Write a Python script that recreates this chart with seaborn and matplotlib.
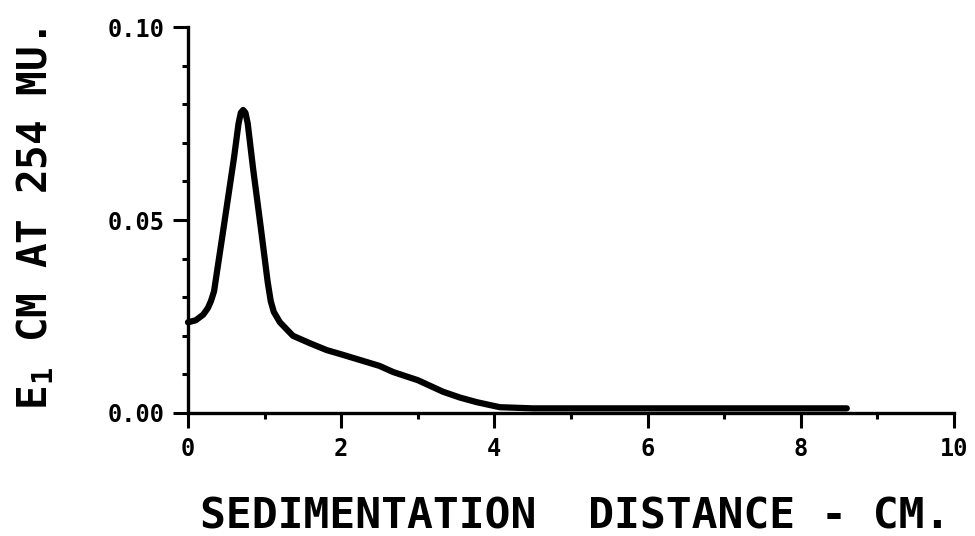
import matplotlib
matplotlib.use("Agg")
import matplotlib.pyplot as plt
import seaborn as sns
import pandas as pd
from matplotlib.ticker import MultipleLocator, FixedLocator

# ---- data ----
distance_cm = [0.00, 0.10, 0.20, 0.26, 0.30, 0.34, 0.45, 0.60, 0.66, 0.69, 0.72, 0.75, 0.78,
               0.85, 0.95, 1.04, 1.08, 1.12, 1.20, 1.37, 1.60, 1.81, 2.00, 2.25, 2.50, 2.68,
               3.00, 3.33, 3.55, 3.77, 4.07, 4.50, 6.00, 8.00, 8.60]
absorbance = [0.0235, 0.0240, 0.0255, 0.0272, 0.0290, 0.0315, 0.0460, 0.0660, 0.0750, 0.0778,
              0.0785, 0.0778, 0.0750, 0.0633, 0.0481, 0.0340, 0.0290, 0.0262, 0.0235, 0.0200,
              0.0180, 0.0163, 0.0152, 0.0137, 0.0122, 0.0106, 0.0085, 0.0055, 0.0040, 0.0028,
              0.0015, 0.0012, 0.0012, 0.0012, 0.0012]
x_ticks = [0, 2, 4, 6, 8, 10]
x_tick_labels = ["0", "2", "4", "6", "8", "10"]
y_ticks = [0.00, 0.05, 0.10]
y_tick_labels = ["0.00", "0.05", "0.10"]
x_label = "SEDIMENTATION  DISTANCE - CM."
y_label = r"E$_\mathbf{1}$ CM AT 254 MU."

df = pd.DataFrame({"distance": distance_cm, "absorbance": absorbance})

sns.set_theme(style="white")
plt.rcParams["font.family"] = ["DejaVu Sans Mono", "DejaVu Sans"]
plt.rcParams["mathtext.fontset"] = "custom"
plt.rcParams["mathtext.rm"] = "DejaVu Sans Mono"
plt.rcParams["mathtext.bf"] = "DejaVu Sans Mono:bold"
plt.rcParams["text.color"] = "black"
plt.rcParams["axes.labelcolor"] = "black"
plt.rcParams["xtick.color"] = "black"
plt.rcParams["ytick.color"] = "black"

fig = plt.figure(figsize=(9.75, 5.36), dpi=100)
ax = fig.add_axes([0.1928, 0.2295, 0.7857, 0.7201])

sns.lineplot(data=df, x="distance", y="absorbance", ax=ax, color="black",
             linewidth=4.5, sort=False, estimator=None, clip_on=False,
             solid_capstyle="round", solid_joinstyle="round")

ax.set_xlim(0, 10)
ax.set_ylim(0, 0.10)
ax.xaxis.set_major_locator(FixedLocator(x_ticks))
ax.set_xticklabels(x_tick_labels)
ax.xaxis.set_minor_locator(MultipleLocator(1))
ax.yaxis.set_major_locator(FixedLocator(y_ticks))
ax.set_yticklabels(y_tick_labels)
ax.yaxis.set_minor_locator(MultipleLocator(0.01))

for side in ["top", "right"]:
    ax.spines[side].set_visible(False)
for side in ["left", "bottom"]:
    ax.spines[side].set_linewidth(2.4)
    ax.spines[side].set_color("black")

ax.tick_params(axis="both", which="major", direction="out", length=11, width=2.2,
               color="black", labelcolor="black", labelsize=17, pad=6)
ax.tick_params(axis="both", which="minor", direction="out", length=4, width=2.2,
               color="black")
ax.tick_params(axis="x", which="both", bottom=True)
ax.tick_params(axis="y", which="both", left=True)
for lab in ax.get_xticklabels() + ax.get_yticklabels():
    lab.set_fontweight("bold")

ax.set_xlabel(x_label, fontsize=31, fontweight="bold", va="baseline", color="black")
ax.set_ylabel(y_label, fontsize=29.5, fontweight="bold", va="baseline", color="black")
ax.xaxis.set_label_coords(0.505, -0.298)
ax.yaxis.set_label_coords(-0.184, 0.503)
ax.grid(False)

fig.savefig("out.png", dpi=100, facecolor="white")
